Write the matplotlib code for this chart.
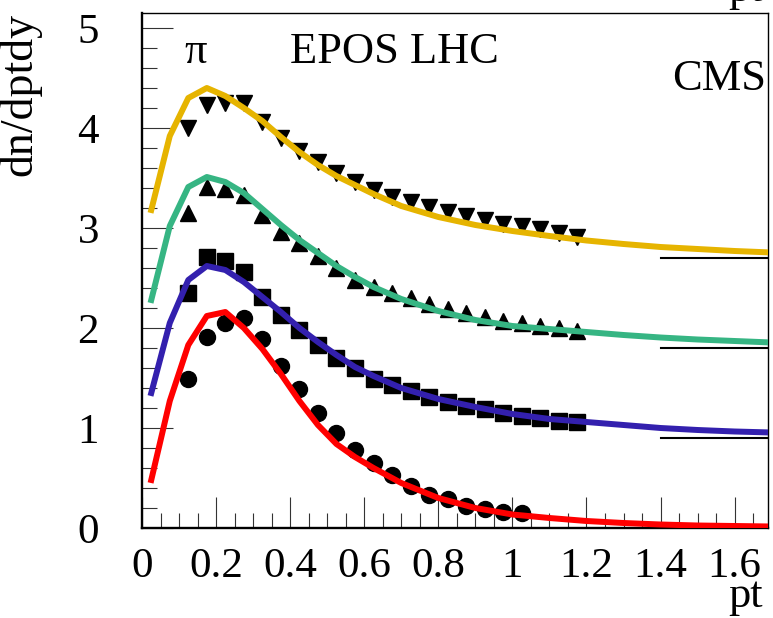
import matplotlib
matplotlib.use('Agg')
import matplotlib.pyplot as plt
from matplotlib.ticker import MultipleLocator

plt.rcParams['font.family'] = ['Liberation Serif', 'DejaVu Serif']

# EPOS LHC model curves (sets shifted by 0.9 each)
curve_pt = [0.025, 0.075, 0.125, 0.175, 0.225, 0.275, 0.325, 0.375, 0.425, 0.475,
            0.525, 0.575, 0.625, 0.7, 0.8, 0.9, 1.0, 1.1, 1.2, 1.3, 1.4, 1.5, 1.6, 1.7]
red_curve = [0.48, 1.27, 1.83, 2.12, 2.16, 2.00, 1.79, 1.54, 1.27, 1.03,
             0.84, 0.71, 0.60, 0.45, 0.30, 0.20, 0.135, 0.10, 0.07, 0.05, 0.035, 0.025, 0.02, 0.015]
blue_curve = [1.35, 2.05, 2.48, 2.62, 2.58, 2.46, 2.31, 2.16, 2.00, 1.86,
              1.73, 1.61, 1.52, 1.40, 1.29, 1.21, 1.14, 1.09, 1.06, 1.03, 1.00, 0.98, 0.965, 0.955]
green_curve = [2.28, 3.02, 3.41, 3.51, 3.46, 3.35, 3.19, 3.03, 2.88, 2.75,
               2.62, 2.51, 2.41, 2.29, 2.17, 2.08, 2.02, 1.99, 1.96, 1.93, 1.905, 1.885, 1.87, 1.855]
gold_curve = [3.18, 3.92, 4.30, 4.40, 4.32, 4.20, 4.07, 3.91, 3.76, 3.63,
              3.52, 3.43, 3.34, 3.22, 3.11, 3.03, 2.97, 2.92, 2.875, 2.84, 2.81, 2.79, 2.77, 2.755]

# CMS data points
data_pt = [0.125, 0.175, 0.225, 0.275, 0.325, 0.375, 0.425, 0.475, 0.525, 0.575, 0.625,
           0.675, 0.725, 0.775, 0.825, 0.875, 0.925, 0.975, 1.025, 1.075, 1.125, 1.175]
circles = [1.49, 1.91, 2.05, 2.10, 1.89, 1.62, 1.39, 1.15, 0.95, 0.78, 0.65,
           0.53, 0.42, 0.33, 0.29, 0.22, 0.19, 0.16, 0.15]
squares = [2.35, 2.71, 2.67, 2.56, 2.31, 2.13, 1.98, 1.83, 1.70, 1.60, 1.49,
           1.43, 1.37, 1.31, 1.26, 1.22, 1.19, 1.15, 1.12, 1.10, 1.07, 1.06]
tri_up = [3.15, 3.41, 3.39, 3.33, 3.13, 2.96, 2.85, 2.72, 2.60, 2.48, 2.41,
          2.35, 2.30, 2.24, 2.19, 2.15, 2.11, 2.07, 2.05, 2.02, 2.00, 1.97]
tri_down = [4.00, 4.23, 4.25, 4.25, 4.06, 3.90, 3.77, 3.66, 3.55, 3.46, 3.38,
            3.31, 3.26, 3.21, 3.16, 3.12, 3.08, 3.04, 3.02, 2.99, 2.95, 2.91]

# offset baselines drawn at the right
baselines = [0.9, 1.8, 2.7]
baseline_start = 1.4

xtick_vals = [0, 0.2, 0.4, 0.6, 0.8, 1.0, 1.2, 1.4, 1.6]
xtick_labels = ['0', '0.2', '0.4', '0.6', '0.8', '1', '1.2', '1.4', '1.6']
ytick_vals = [0, 1, 2, 3, 4, 5]
ytick_labels = ['0', '1', '2', '3', '4', '5']

fig = plt.figure(figsize=(7.73, 6.18), dpi=100)
ax = fig.add_axes([142/773, 90/618, 626/773, 515.3/618])

ms = 11.5
ax.plot(data_pt[:len(circles)], circles, 'o', color='black', ms=ms, zorder=2)
ax.plot(data_pt, squares, 's', color='black', ms=ms, zorder=2)
ax.plot(data_pt, tri_up, '^', color='black', ms=ms, zorder=2)
ax.plot(data_pt, tri_down, 'v', color='black', ms=ms, zorder=2)

lw = 4.3
ax.plot(curve_pt, red_curve, color='#ff0000', lw=lw, zorder=3)
ax.plot(curve_pt, blue_curve, color='#3320ae', lw=lw, zorder=3)
ax.plot(curve_pt, green_curve, color='#36b583', lw=lw, zorder=3)
ax.plot(curve_pt, gold_curve, color='#e6b400', lw=lw, zorder=3)

for b in baselines:
    ax.plot([baseline_start, 1.69], [b, b], color='black', lw=1.5, zorder=1)

ax.set_xlim(0, 1.69)
ax.set_ylim(0, 5.153)

ax.set_xticks(xtick_vals)
ax.set_xticklabels(xtick_labels)
ax.set_yticks(ytick_vals)
ax.set_yticklabels(ytick_labels)
ax.xaxis.set_minor_locator(MultipleLocator(0.05))
ax.yaxis.set_minor_locator(MultipleLocator(0.2))
ax.tick_params(which='both', direction='in', top=False, right=False,
               width=0.8, color='#333333', labelsize=31)
ax.tick_params(which='major', length=22)
ax.tick_params(which='minor', length=11)
ax.tick_params(axis='x', which='major', pad=14)
ax.tick_params(axis='y', which='major', pad=31)

ax.spines['left'].set_linewidth(1.7)
ax.spines['bottom'].set_linewidth(1.7)
ax.spines['top'].set_linewidth(1.0)
ax.spines['right'].set_linewidth(1.0)

ax.text(0.146, 4.65, 'π', fontsize=32, ha='center', va='baseline')
ax.text(0.40, 4.65, 'EPOS LHC', fontsize=32, ha='left', va='baseline')
ax.text(1.685, 4.38, 'CMS', fontsize=32, ha='right', va='baseline')

fig.text(20/773, 1 - 13/618, 'dn/dptdy', fontsize=33, rotation=90, ha='center', va='top')
fig.text(763/773, 11/618, 'pt', fontsize=32, ha='right', va='baseline')
fig.text(763/773, 1 - 1/618, 'pt', fontsize=32, ha='right', va='baseline')

fig.savefig('out.png', dpi=100)
